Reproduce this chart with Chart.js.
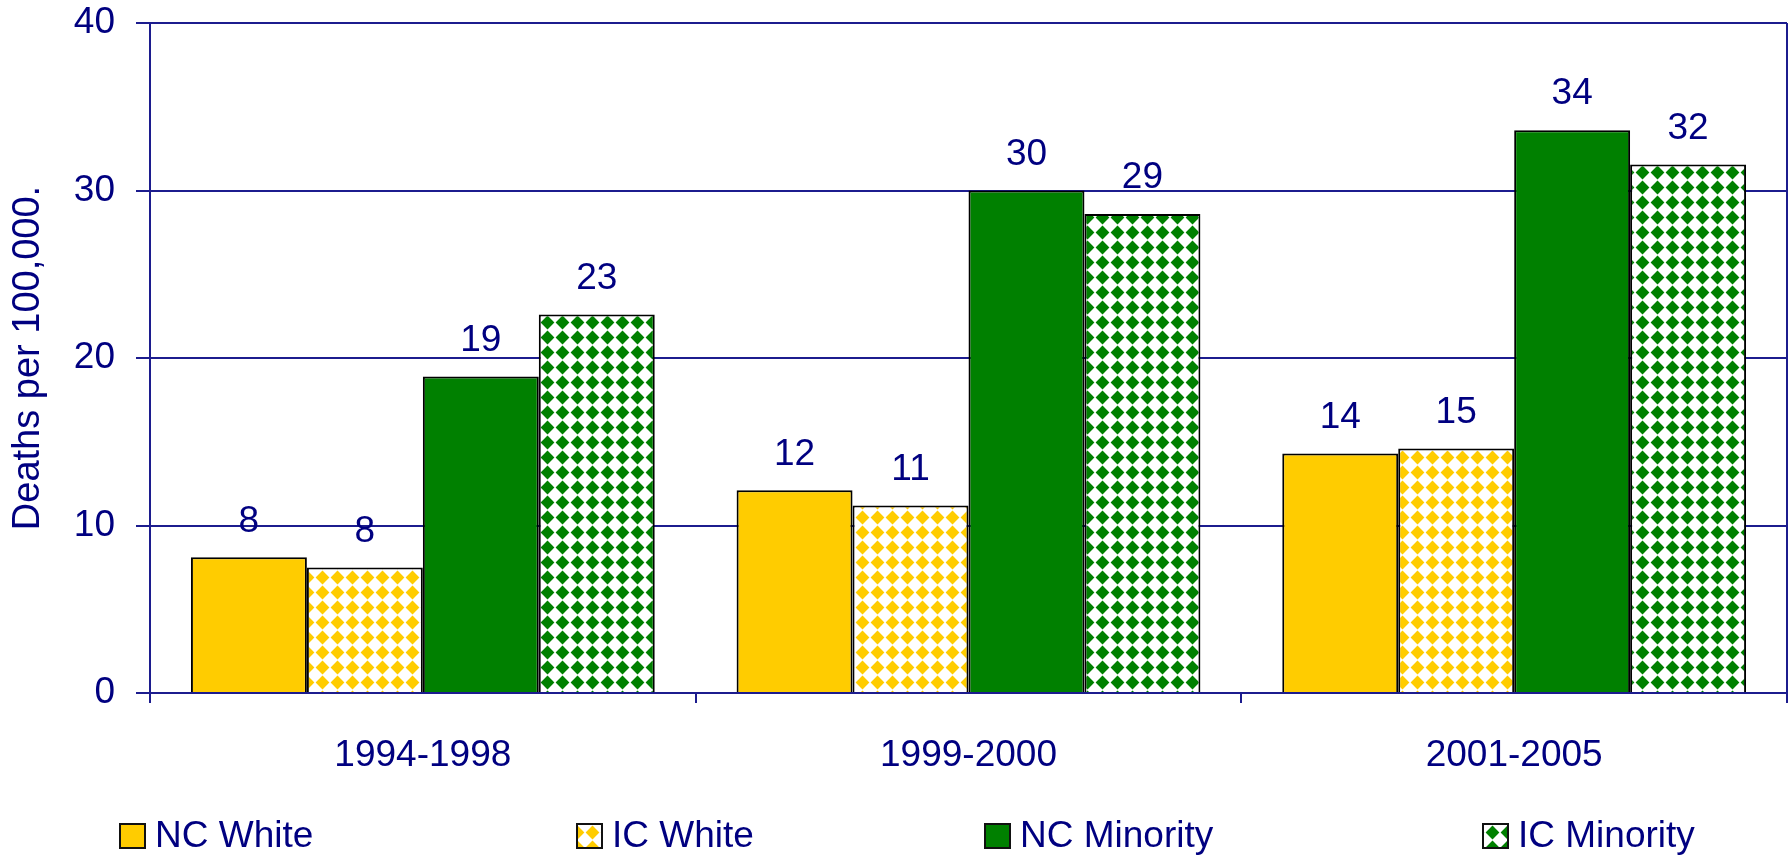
<!DOCTYPE html>
<html>
<head>
<meta charset="utf-8">
<script src="https://cdn.jsdelivr.net/npm/chart.js@4"></script>
<style>
  html, body { margin: 0; padding: 0; background: #fff; }
</style>
</head>
<body>
<canvas id="chart" width="1792" height="857"></canvas>
<script>
// data
const periods = ['1994-1998', '1999-2000', '2001-2005'];
const ncWhite = [8.1, 12.1, 14.3];
const icWhite = [7.5, 11.2, 14.6];
const ncMinority = [18.9, 30.0, 33.6];
const icMinority = [22.6, 28.6, 31.55];
const yTicks = [0, 10, 20, 30, 40];

const navy = '#000080';
const lineNavy = '#1c1c8e';
const yellow = '#ffcc00';
const green = '#008000';
const fontFamily = '"Liberation Sans", Arial, sans-serif';

Chart.defaults.font.family = fontFamily;

// rotated checkerboard fill, like the excel "solid diamond" pattern
function diamondPattern(color) {
    const P = 15;
    const c = document.createElement('canvas');
    c.width = P; c.height = P;
    const g = c.getContext('2d');
    g.fillStyle = '#fff';
    g.fillRect(0, 0, P, P);
    g.fillStyle = color;
    const r = P * 0.46;
    g.beginPath();
    g.moveTo(P / 2, P / 2 - r);
    g.lineTo(P / 2 + r, P / 2);
    g.lineTo(P / 2, P / 2 + r);
    g.lineTo(P / 2 - r, P / 2);
    g.closePath();
    g.fill();
    return g.createPattern(c, 'repeat');
}

// numbers over the bars
const barLabels = {
    id: 'barLabels',
    afterDatasetsDraw(chart) {
        const ctx = chart.ctx;
        ctx.save();
        ctx.font = '37px ' + fontFamily;
        ctx.fillStyle = navy;
        ctx.textAlign = 'center';
        ctx.textBaseline = 'middle';
        chart.data.datasets.forEach((ds, i) => {
            chart.getDatasetMeta(i).data.forEach((bar, j) => {
                ctx.fillText(Math.round(ds.data[j]), bar.x, bar.y - 36);
            });
        });
        ctx.restore();
    }
};

// legend spread across the bottom, like excel does it
const bottomLegend = {
    id: 'bottomLegend',
    afterDraw(chart) {
        const ctx = chart.ctx;
        const starts = [120, 577, 985, 1483];
        const cy = 836;
        ctx.save();
        ctx.font = '37px ' + fontFamily;
        chart.data.datasets.forEach((ds, i) => {
            const x = starts[i];
            ctx.fillStyle = '#fff';
            ctx.fillRect(x, cy - 12, 25, 24);
            ctx.fillStyle = ds.backgroundColor;
            ctx.fillRect(x, cy - 12, 25, 24);
            ctx.strokeStyle = '#111';
            ctx.lineWidth = 2;
            ctx.strokeRect(x, cy - 12, 25, 24);
            ctx.fillStyle = navy;
            ctx.textAlign = 'left';
            ctx.textBaseline = 'middle';
            ctx.fillText(ds.label, x + 35, cy + 1);
        });
        ctx.restore();
    }
};

const ctx = document.getElementById('chart').getContext('2d');
new Chart(ctx, {
    type: 'bar',
    data: {
        labels: periods,
        datasets: [
            { label: 'NC White', data: ncWhite, backgroundColor: yellow },
            { label: 'IC White', data: icWhite, backgroundColor: diamondPattern(yellow) },
            { label: 'NC Minority', data: ncMinority, backgroundColor: green },
            { label: 'IC Minority', data: icMinority, backgroundColor: diamondPattern(green) }
        ]
    },
    options: {
        responsive: false,
        animation: false,
        events: [],
        datasets: {
            bar: {
                categoryPercentage: 0.85,
                barPercentage: 1.0,
                borderColor: '#000',
                borderWidth: 2
            }
        },
        layout: { padding: { top: 23, right: 5, left: 0, bottom: 80 } },
        plugins: {
            legend: { display: false },
            tooltip: { enabled: false }
        },
        scales: {
            x: {
                grid: {
                    offset: true,
                    // only the right edge of the plot gets a line
                    color: c => c.type === 'scale' ? lineNavy : 'rgba(0,0,0,0)',
                    tickColor: lineNavy,
                    tickLength: 10,
                    lineWidth: 2
                },
                border: { color: lineNavy, width: 2 },
                ticks: { color: navy, font: { size: 37 }, padding: 31 },
                afterFit: a => { a.height = 84; }
            },
            y: {
                min: yTicks[0],
                max: yTicks[yTicks.length - 1],
                afterBuildTicks: a => { a.ticks = yTicks.map(v => ({ value: v })); },
                grid: { color: lineNavy, lineWidth: 2, tickLength: 14 },
                border: { color: lineNavy, width: 2 },
                ticks: { color: navy, font: { size: 37 }, padding: 21 },
                title: {
                    display: true,
                    text: 'Deaths per 100,000.',
                    color: navy,
                    font: { size: 38 },
                    padding: { top: 6, bottom: 0 }
                },
                // fixed axis width, and no extra room above the top label
                afterFit: a => { a.width = 150; a.paddingTop = 0; a.paddingBottom = 0; }
            }
        }
    },
    plugins: [barLabels, bottomLegend]
});
</script>
</body>
</html>
